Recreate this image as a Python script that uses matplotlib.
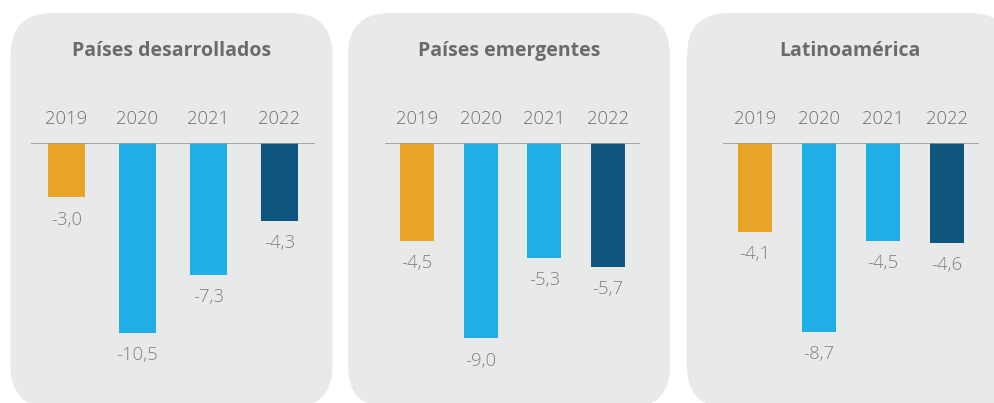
import matplotlib
matplotlib.use("Agg")
import matplotlib.pyplot as plt
from matplotlib.patches import FancyBboxPatch

plt.rcParams['font.family'] = ['Open Sans', 'DejaVu Sans']

years = ['2019', '2020', '2021', '2022']
desarrollados = [-3.0, -10.5, -7.3, -4.3]
emergentes = [-4.5, -9.0, -5.3, -5.7]
latam = [-4.1, -8.7, -4.5, -4.6]
titles = ['Países desarrollados', 'Países emergentes', 'Latinoamérica']
bar_colors = ['#E9A427', '#1FAFE6', '#1FAFE6', '#10557E']

W, H = 995, 403
fig = plt.figure(figsize=(W / 100, H / 100), dpi=100)
fig.patch.set_facecolor('white')


def px_axes(x0, y0, x1, y1):
    # pixel box (top-left origin) -> figure fraction rect
    return [x0 / W, 1 - y1 / H, (x1 - x0) / W, (y1 - y0) / H]


# (panel left, panel right, axis left, axis right, ymin)
layout = [
    (10.5, 332.5, 31, 315, -14.36),
    (348, 670, 385, 640, -11.98),
    (687, 1012, 723, 979, -11.98),
]
series = [desarrollados, emergentes, latam]

for (pl, pr, al, ar, ymin), vals, title in zip(layout, series, titles):
    # rounded grey card behind each chart, drawn in inches so corners stay round
    card = FancyBboxPatch((pl / 100, (H - 408) / 100), (pr - pl) / 100, (408 - 13) / 100,
                          boxstyle='round,pad=0,rounding_size=0.42',
                          transform=fig.dpi_scale_trans, facecolor='#E8E9E9',
                          edgecolor='none', zorder=-10)
    fig.patches.append(card)

    fig.text((pl + pr) / 2 / W, 1 - 51 / H, title, ha='center', va='center',
             fontsize=14, fontweight='bold', color='#6B6B6B')

    ax = fig.add_axes(px_axes(al, 143, ar, 403))
    ax.set_zorder(5)
    ax.set_xlim(-0.5, 3.5)
    ax.set_ylim(ymin, 0)
    ax.axis('off')
    x = range(len(years))
    ax.bar(x, vals, width=0.535, color=bar_colors, zorder=2)
    ax.axhline(0, color='#9A9A9A', lw=1.2, zorder=3)

    for i, (yr, v) in enumerate(zip(years, vals)):
        ax.annotate(yr, (i, 0), xytext=(0, 17), textcoords='offset points',
                    ha='center', va='center', fontsize=13.3, color='#707070',
                    fontweight='light', annotation_clip=False)
        ax.annotate(f'{v:.1f}'.replace('.', ','), (i, v), xytext=(0, -16),
                    textcoords='offset points', ha='center', va='center',
                    fontsize=13.3, color='#808080', fontweight='light',
                    annotation_clip=False)

fig.savefig('out.png', dpi=100)
